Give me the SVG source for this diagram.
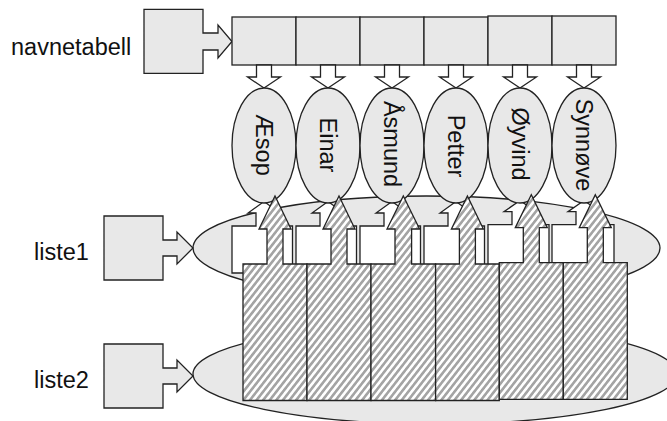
<svg xmlns="http://www.w3.org/2000/svg" width="667" height="421" viewBox="0 0 667 421">
<style>
.g{fill:#e8e8e8;stroke:#222;stroke-width:1.3}
.w{fill:#fff;stroke:#222;stroke-width:1.3}
.h{fill:url(#hatch);stroke:#222;stroke-width:1.3}
.t{font-family:"Liberation Sans",Arial,sans-serif;font-size:23.5px;fill:#111}
.n{font-family:"Liberation Sans",Arial,sans-serif;font-size:23.5px;fill:#111;text-anchor:middle}
</style>
<defs>
<pattern id="hatch" patternUnits="userSpaceOnUse" width="5.2" height="5.2" patternTransform="rotate(38)">
<rect width="5.2" height="5.2" fill="#fff"/>
<rect width="2.6" height="5.2" fill="#a4a4a4"/>
</pattern>
</defs>
<rect width="667" height="421" fill="#fff"/>

<g id="liste2-list">
<ellipse class="g" cx="435" cy="374" rx="242" ry="50"/>
</g>
<g id="liste1-list">
<ellipse class="g" cx="426.5" cy="248" rx="233.5" ry="52"/>
</g>

<g id="navnetabell">
<text class="t" x="11" y="55">navnetabell</text>
<path class="g" d="M144,9.3H203V33H218V25L232,41.5L218,58V50H203V73.3H144Z"/>
</g>
<g id="liste1">
<text class="t" x="34" y="260">liste1</text>
<path class="g" d="M104,216H163V240H177V232L193,248L177,264V256H163V280H104Z"/>
</g>
<g id="liste2">
<text class="t" x="34" y="388">liste2</text>
<path class="g" d="M104,344H163V368H177V360L193,376L177,392V384H163V408H104Z"/>
</g>

<g id="table">
<rect class="g" x="232" y="17" width="64" height="48"/>
<rect class="g" x="296" y="17" width="64" height="48"/>
<rect class="g" x="360" y="17" width="64" height="48"/>
<rect class="g" x="424" y="17" width="64" height="48"/>
<rect class="g" x="488" y="16" width="64" height="49"/>
<rect class="g" x="552" y="16" width="64" height="49"/>
</g>

<g id="connectors">
<g id="table-arrows">
<polygon class="w" points="256.5,65 256.5,77 247.5,77 264,88 280.5,77 271.5,77 271.5,65"/>
<polygon class="w" points="320.5,65 320.5,77 311.5,77 328,88 344.5,77 335.5,77 335.5,65"/>
<polygon class="w" points="384.5,65 384.5,77 375.5,77 392,88 408.5,77 399.5,77 399.5,65"/>
<polygon class="w" points="448.5,65 448.5,77 439.5,77 456,88 472.5,77 463.5,77 463.5,65"/>
<polygon class="w" points="512.5,65 512.5,77 503.5,77 520,88 536.5,77 527.5,77 527.5,65"/>
<polygon class="w" points="576.5,65 576.5,77 567.5,77 584,88 600.5,77 591.5,77 591.5,65"/>
</g>
<g id="liste1-nodes">
<path class="w" d="M232,226H256V213H248L264,201.5L280,213H272V226H292.5V273H232Z"/>
<path class="w" d="M296,226H320V213H312L328,201.5L344,213H336V226H356.5V273H296Z"/>
<path class="w" d="M360,226H384V213H376L392,201.5L408,213H400V226H420.5V273H360Z"/>
<path class="w" d="M424,226H448V213H440L456,201.5L472,213H464V226H484.5V273H424Z"/>
<path class="w" d="M488,224.7H512V211.7H504L520,200.5L536,211.7H528V224.7H549V271.7H488Z"/>
<path class="w" d="M552,224.7H576V211.7H568L584,200.5L600,211.7H592V224.7H614V271.7H552Z"/>
</g>
</g>

<g id="Æsop"><ellipse class="g" cx="264" cy="145.5" rx="32" ry="57.5"/><text class="n" transform="translate(264,145) rotate(90)" y="8.5">Æsop</text></g>
<g id="Einar"><ellipse class="g" cx="328" cy="145.5" rx="32" ry="57.5"/><text class="n" transform="translate(328,145) rotate(90)" y="8.5">Einar</text></g>
<g id="Åsmund"><ellipse class="g" cx="392" cy="145.5" rx="32" ry="57.5"/><text class="n" transform="translate(392,144) rotate(90)" y="8.5">Åsmund</text></g>
<g id="Petter"><ellipse class="g" cx="456" cy="145.5" rx="32" ry="57.5"/><text class="n" transform="translate(456,146) rotate(90)" y="8.5">Petter</text></g>
<g id="Øyvind"><ellipse class="g" cx="520" cy="145.5" rx="32" ry="57.5"/><text class="n" transform="translate(520,144) rotate(90)" y="8.5">Øyvind</text></g>
<g id="Synnøve"><ellipse class="g" cx="584" cy="145.5" rx="32" ry="57.5"/><text class="n" transform="translate(584,145) rotate(90)" y="8.5">Synnøve</text></g>

<g id="liste2-nodes">
<path class="h" d="M243,264H267V229H259L275,196L291,229H283V264H307V400.5H243Z"/>
<path class="h" d="M307,264H331V229H323L339,196L355,229H347V264H371V400.5H307Z"/>
<path class="h" d="M371,264H395V229H387L403.3,196L419.6,229H411.6V264H435.6V400.5H371Z"/>
<path class="h" d="M435.6,264H459.4V229H451.4L467.4,196L483.4,229H475.4V264H499.3V400.5H435.6Z"/>
<path class="h" d="M499.3,262.7H523.3V227.7H515.3L531.3,194.7L547.3,227.7H539.3V262.7H563.3V399.3H499.3Z"/>
<path class="h" d="M563.3,262.7H587.3V227.7H579.3L595.3,194.7L611.3,227.7H603.3V262.7H627.3V399.3H563.3Z"/>
</g>
</svg>
